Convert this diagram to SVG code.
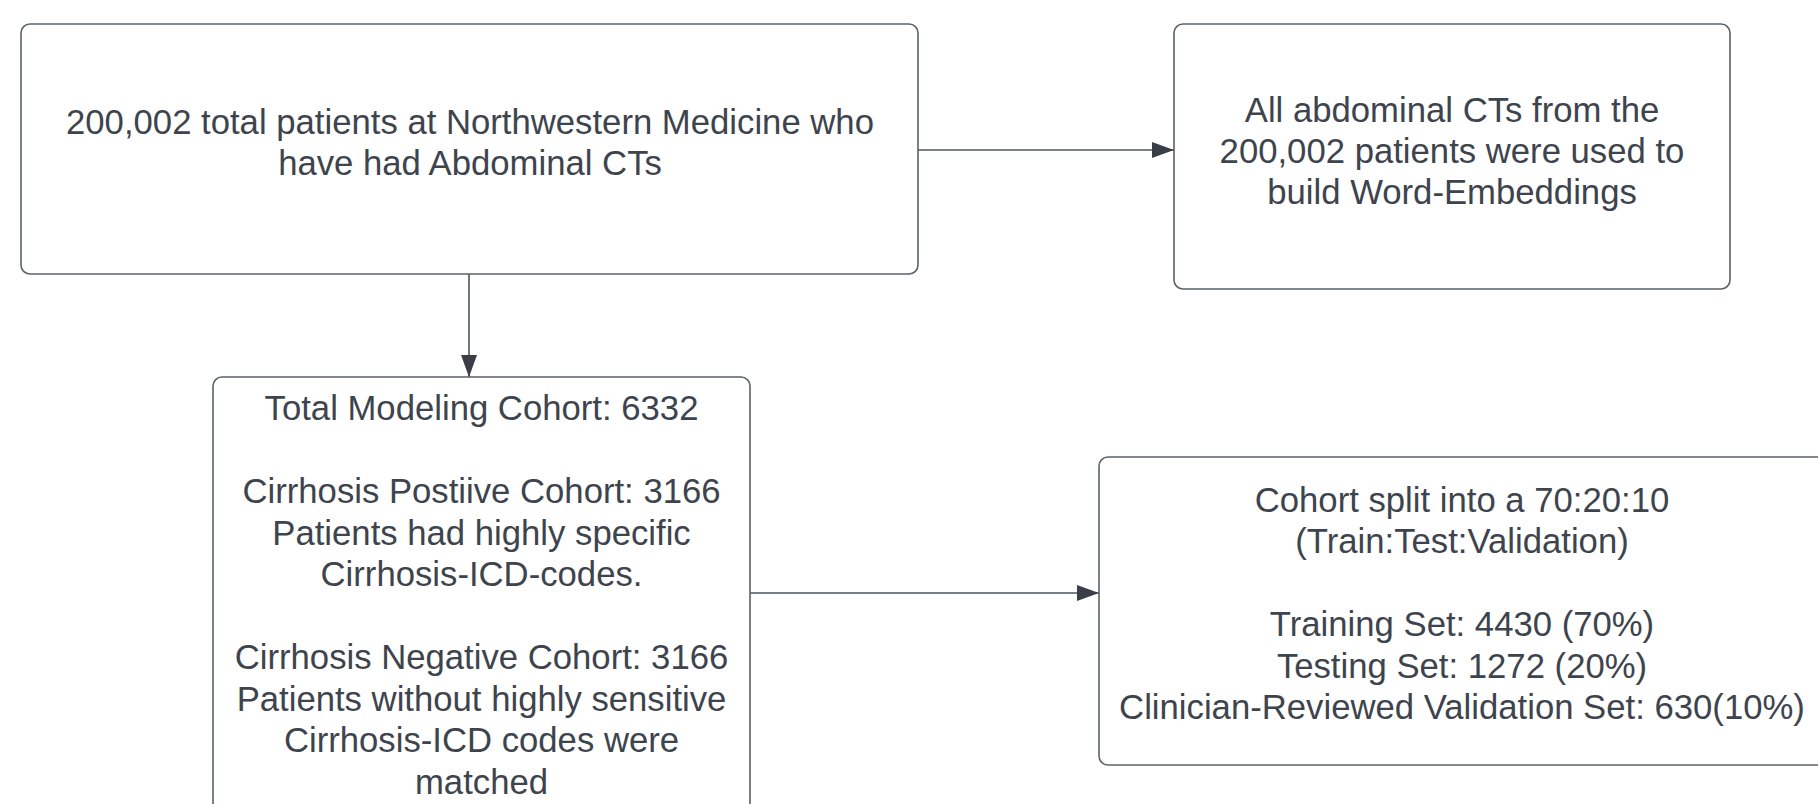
<svg xmlns="http://www.w3.org/2000/svg" width="1818" height="804" viewBox="0 0 1818 804">
<style>
.box{fill:#ffffff;stroke:#5b616b;stroke-width:1.6}
.t{font-family:"Liberation Sans",Arial,sans-serif;font-size:34.7px;fill:#3e444d;text-anchor:middle}
.edge{fill:none;stroke:#4f555e;stroke-width:1.6}
</style>
<defs>
<marker id="ah" markerUnits="userSpaceOnUse" markerWidth="24" markerHeight="18" refX="22" refY="8" orient="auto">
<path d="M0,0 L22,8 L0,16 Z" fill="#3a3f47"/>
</marker>
</defs>
<rect width="1818" height="804" fill="#ffffff"/>
<g id="connectors">
<line class="edge" x1="469" y1="274" x2="469" y2="377" marker-end="url(#ah)"/>
<line class="edge" x1="918" y1="150" x2="1174" y2="150" marker-end="url(#ah)"/>
<line class="edge" x1="750" y1="593" x2="1099" y2="593" marker-end="url(#ah)"/>
</g>
<g id="node-total-patients">
<rect class="box" x="21" y="24" width="897" height="250" rx="9"/>
<text class="t"><tspan x="470" y="134">200,002 total patients at Northwestern Medicine who</tspan><tspan x="470" y="175">have had Abdominal CTs</tspan></text>
</g>
<g id="node-word-embeddings">
<rect class="box" x="1174" y="24" width="556" height="265" rx="9"/>
<text class="t"><tspan x="1452" y="122">All abdominal CTs from the</tspan><tspan x="1452" y="163">200,002 patients were used to</tspan><tspan x="1452" y="204">build Word-Embeddings</tspan></text>
</g>
<g id="node-modeling-cohort">
<rect class="box" x="213" y="377" width="537" height="480" rx="9"/>
<text class="t"><tspan x="481.5" y="420">Total Modeling Cohort: 6332</tspan><tspan x="481.5" y="503">Cirrhosis Postiive Cohort: 3166</tspan><tspan x="481.5" y="544.5">Patients had highly specific</tspan><tspan x="481.5" y="586">Cirrhosis-ICD-codes.</tspan><tspan x="481.5" y="669">Cirrhosis Negative Cohort: 3166</tspan><tspan x="481.5" y="710.5">Patients without highly sensitive</tspan><tspan x="481.5" y="752">Cirrhosis-ICD codes were</tspan><tspan x="481.5" y="793.5">matched</tspan></text>
</g>
<g id="node-cohort-split">
<rect class="box" x="1099" y="457" width="730" height="308" rx="9"/>
<text class="t"><tspan x="1462" y="511.5">Cohort split into a 70:20:10</tspan><tspan x="1462" y="553">(Train:Test:Validation)</tspan><tspan x="1462" y="636">Training Set: 4430 (70%)</tspan><tspan x="1462" y="677.5">Testing Set: 1272 (20%)</tspan><tspan x="1462" y="719">Clinician-Reviewed Validation Set: 630(10%)</tspan></text>
</g>
</svg>
